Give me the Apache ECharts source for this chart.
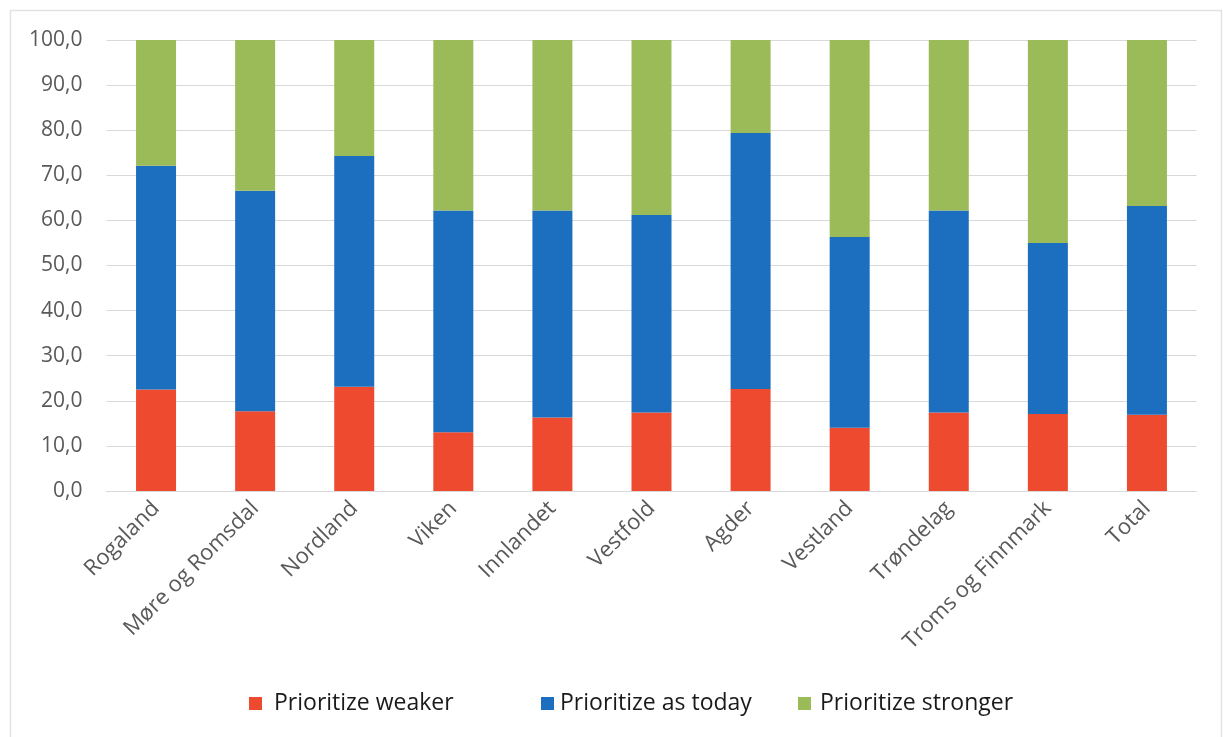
<!DOCTYPE html>
<html>
<head>
<meta charset="utf-8">
<script src="https://cdn.jsdelivr.net/npm/echarts@6/dist/echarts.min.js"></script>
<style>
html,body{margin:0;padding:0;background:#fff;}
#chart{width:1223px;height:737px;}
</style>
</head>
<body>
<div id="chart"></div>
<script>
const categories = ['Rogaland','Møre og Romsdal','Nordland','Viken','Innlandet','Vestfold','Agder','Vestland','Trøndelag','Troms og Finnmark','Total'];
const weaker   = [22.5, 17.7, 23.1, 13.0, 16.3, 17.4, 22.6, 14.0, 17.4, 17.1, 16.9];
const asToday  = [49.6, 48.9, 51.2, 49.2, 45.9, 43.8, 56.8, 42.3, 44.8, 37.9, 46.3];
const stronger = [27.9, 33.4, 25.7, 37.8, 37.8, 38.8, 20.6, 43.7, 37.8, 45.0, 36.8];
const seriesNames = ['Prioritize weaker','Prioritize as today','Prioritize stronger'];
const colors = ['#EE4A2F','#1B6FBE','#9BBB59'];
const yTicks = [0,10,20,30,40,50,60,70,80,90,100];

const chart = echarts.init(document.getElementById('chart'));
const font = '"Open Sans", Lato, sans-serif';
const mkLegend = (name, left, gap) => ({
  data:[name], left:left, top:692, padding:0, itemWidth:13, itemHeight:13, icon:'rect',
  textStyle:{fontFamily:font, fontSize:23, color:'#1a1a1a', padding:[0,0,0,gap]}
});
chart.setOption({
  animation:false,
  graphic:[{type:'polyline', shape:{points:[[10.5,737],[10.5,10.5],[1221.5,10.5],[1221.5,737]]}, style:{fill:'none', stroke:'#e3e3e3', lineWidth:1.5}, silent:true}],
  legend:[mkLegend(seriesNames[0],249,7), mkLegend(seriesNames[1],541,1), mkLegend(seriesNames[2],798,4)],
  grid:{left:106.5, right:26.5, top:40, bottom:246},
  xAxis:{
    type:'category', data:categories,
    axisLine:{lineStyle:{color:'#d9d9d9'}},
    axisTick:{show:false},
    axisLabel:{rotate:45, fontFamily:font, fontSize:22, color:'#595959', margin:14, interval:0}
  },
  yAxis:{
    type:'value', min:yTicks[0], max:yTicks[yTicks.length-1], interval:10,
    axisLine:{show:false}, axisTick:{show:false},
    splitLine:{lineStyle:{color:'#d9d9d9'}},
    axisLabel:{fontFamily:font, fontSize:21, color:'#595959', margin:24,
      formatter:v=>v.toFixed(1).replace('.',',')}
  },
  series:[weaker, asToday, stronger].map((d,i)=>({
    name:seriesNames[i], type:'bar', stack:'total', data:d, barWidth:40,
    itemStyle:{color:colors[i]}
  }))
});
</script>
</body>
</html>
